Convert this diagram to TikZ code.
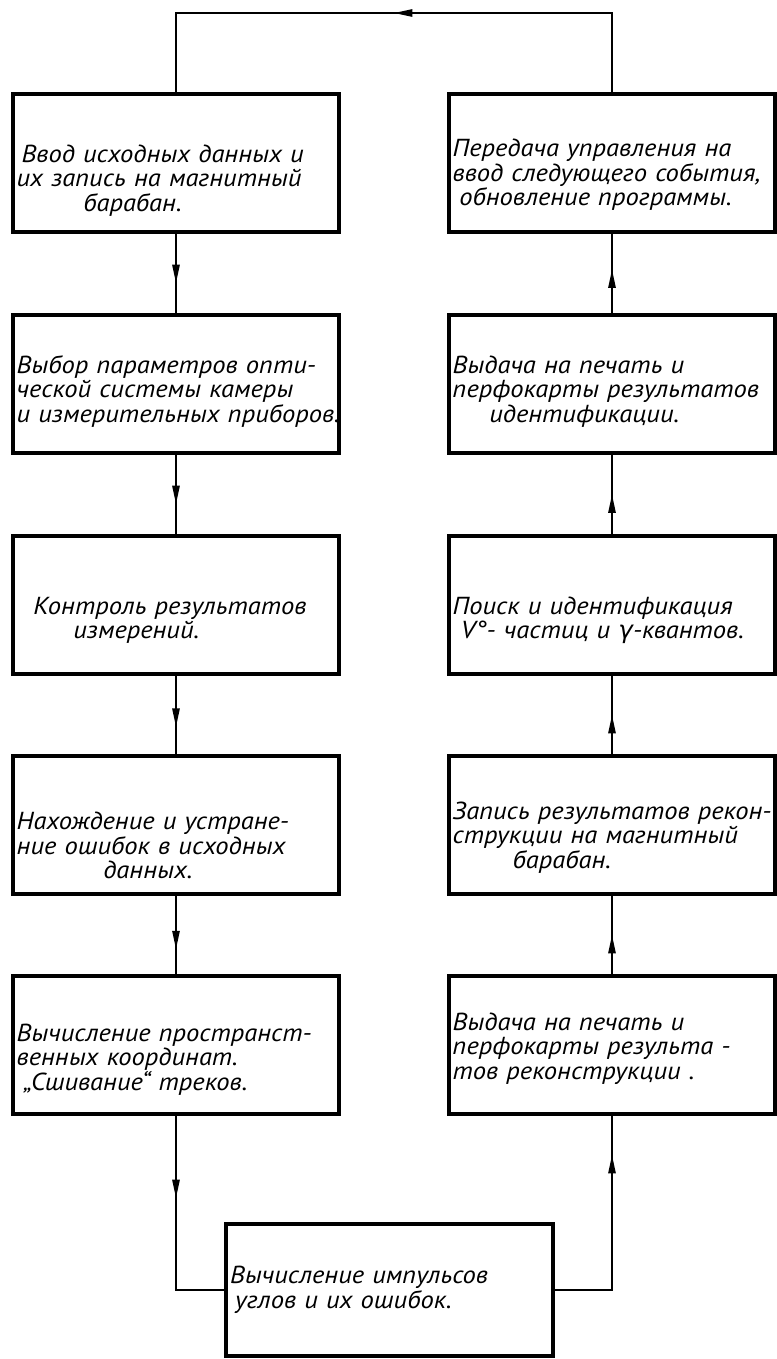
\documentclass[tikz,border=0pt]{standalone}
\usepackage{fontspec}
\usepackage{tikz}
\usetikzlibrary{arrows.meta, decorations.markings, positioning}

\newfontfamily\draftfont[FakeStretch=1.08]{PT Sans}
\newfontfamily\greekfont{DejaVu Sans}
\newcommand{\boxfont}{\draftfont\itshape\fontsize{21}{21}\selectfont}

\begin{document}
\begin{tikzpicture}[
    x=0.03cm, y=-0.03cm,
    stage/.style={draw, line width=2.8pt, minimum width=9.78cm, minimum height=4.14cm,
        text width=9.56cm, inner xsep=0.11cm, align=left, font=\boxfont},
    textdrop/.style={execute at begin node={\rule{0pt}{#1}}},
    conn/.style={line width=1.4pt},
    midarr/.style={postaction={decorate, decoration={markings,
        mark=at position #1 with {\arrow{Triangle[length=5.5mm, width=2.2mm]}}}}},
]
\useasboundingbox (0,0) rectangle (777,1359);

% Left column
\node[stage, textdrop=45pt] (l1) at (176,163) {\hspace*{0.15cm}Ввод исходных данных и\\их запись на магнитный\\\hspace*{2cm}барабан.};
\node[stage, textdrop=28pt] (l2) at (176,384) {\mbox{Выбор параметров опти-}\\ческой системы камеры\\\mbox{и измерительных приборов.}};
\node[stage, textdrop=41pt] (l3) at (176,605) {\hspace*{0.5cm}Контроль результатов\\\hspace*{1.7cm}измерений.};
\node[stage, textdrop=50pt] (l4) at (176,825) {Нахождение и устране-\\ние ошибок в исходных\\\hspace*{2.6cm}данных.};
\node[stage, textdrop=40pt] (l5) at (176,1045) {\mbox{Вычисление пространст-}\\венных координат.\\\hspace*{0.2cm}„Сшивание“ треков.};

% Right column
\node[stage, textdrop=35pt] (r1) at (612,163) {Передача управления на\\\mbox{ввод следующего события,}\\\hspace*{0.2cm}обновление программы.};
\node[stage, textdrop=28pt] (r2) at (612,384) {Выдача на печать и\\\mbox{перфокарты результатов}\\\hspace*{1.1cm}идентификации.};
\node[stage, textdrop=41pt] (r3) at (612,605) {Поиск и идентификация\\\hspace*{0.25cm}V°- частиц и {\greekfont\itshape γ}-квантов.};
\node[stage, textdrop=36pt] (r4) at (612,825) {\mbox{Запись результатов рекон-}\\струкции на магнитный\\\hspace*{1.8cm}барабан.};
\node[stage, textdrop=21pt] (r5) at (612,1045) {Выдача на печать и\\перфокарты результа -\\тов реконструкции .};

% Bottom
\node[stage, minimum width=9.81cm, minimum height=3.96cm] (calc) at (389.5,1290) {Вычисление импульсов\\\hspace*{0.15cm}углов и их ошибок.};

% Connectors
\draw[conn, midarr=0.62] (l1) -- (l2);
\draw[conn, midarr=0.62] (l2) -- (l3);
\draw[conn, midarr=0.65] (l3) -- (l4);
\draw[conn, midarr=0.68] (l4) -- (l5);
\draw[conn, midarr=0.37] (l5.south) |- (calc.west);
\draw[conn, midarr=0.83] (calc.east) -| (r5.south);
\draw[conn, midarr=0.5] (r5) -- (r4);
\draw[conn, midarr=0.5] (r4) -- (r3);
\draw[conn, midarr=0.5] (r3) -- (r2);
\draw[conn, midarr=0.55] (r2) -- (r1);

% Loop back
\coordinate (looptop) at (394,13);
\draw[conn, midarr=0.5] (r1.north) |- (looptop) -| (l1.north);
\end{tikzpicture}
\end{document}
